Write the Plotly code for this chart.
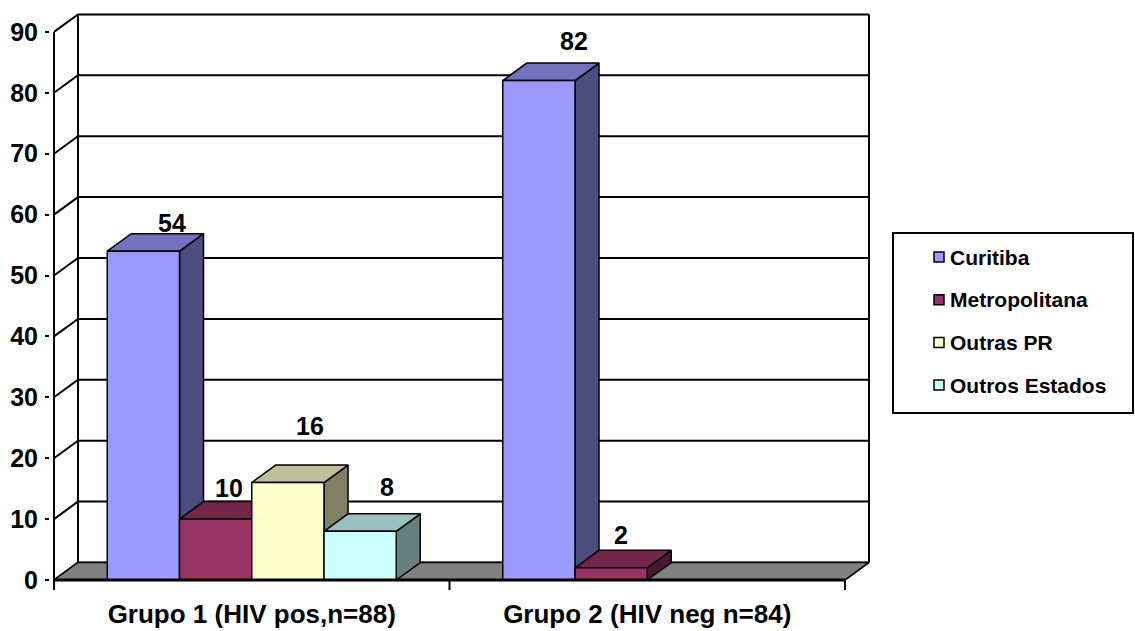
import plotly.graph_objects as go

# ---- data ----
categories = ["Grupo 1 (HIV pos,n=88)", "Grupo 2 (HIV neg n=84)"]
series_names = ["Curitiba", "Metropolitana", "Outras PR", "Outros Estados"]
curitiba = [54, 82]
metropolitana = [10, 2]
outras_pr = [16, 0]
outros_estados = [8, 0]
y_ticks = [0, 10, 20, 30, 40, 50, 60, 70, 80, 90]

series_values = [curitiba, metropolitana, outras_pr, outros_estados]

# ---- styling ----
FONT = "Liberation Sans, Arial, sans-serif"
front_colors = ["#9999FF", "#993366", "#FFFFCC", "#CCFFFF"]


def shade(hex_color, f):
    h = hex_color.lstrip("#")
    r, g, b = (int(h[i:i + 2], 16) for i in (0, 2, 4))
    return "#%02X%02X%02X" % (int(r * f), int(g * f), int(b * f))


# figure geometry (pixels)
W, H = 1135, 631
M_L, M_R, M_T, M_B = 50, 263, 12, 41
PX_PER_CAT = 395.5          # pixels per category along x
PX_PER_UNIT = 6.09          # pixels per value unit along y
DEPTH_PX = (24.0, 17.5)     # oblique depth offset of the 3D box

DX = DEPTH_PX[0] / PX_PER_CAT
DY = DEPTH_PX[1] / PX_PER_UNIT
BAR_W = 72.25 / PX_PER_CAT
N_SER = len(series_names)

plot_w = W - M_L - M_R
plot_h = H - M_T - M_B
x_min = -0.5 - 4 / PX_PER_CAT
x_max = x_min + plot_w / PX_PER_CAT
y_min = -10 / PX_PER_UNIT
y_max = y_min + plot_h / PX_PER_UNIT

x_left, x_right = -0.5, len(categories) - 0.5
y_top = y_ticks[-1]

fig = go.Figure()


def poly(xs, ys, fill=None, width=1.5, color="black"):
    kw = dict(x=xs, y=ys, mode="lines", line=dict(color=color, width=width),
              hoverinfo="skip", showlegend=False)
    if fill:
        kw.update(fill="toself", fillcolor=fill)
    fig.add_trace(go.Scatter(**kw))


# back wall gridlines (front edge -> back wall)
gx, gy = [], []
for v in y_ticks:
    gx += [x_left, x_left + DX, x_right + DX, None]
    gy += [v, v + DY, v + DY, None]
poly(gx, gy, width=2)

# back wall verticals
poly([x_left + DX, x_left + DX], [DY, y_top + DY], width=2)
poly([x_right + DX, x_right + DX], [DY, y_top + DY], width=2)

# floor
poly([x_left, x_right, x_right + DX, x_left + DX, x_left],
     [0, 0, DY, DY, 0], fill="#808080", width=1.5)

# 3D bars: side, top, then front face
for ci in range(len(categories)):
    for si in range(N_SER):
        v = series_values[si][ci]
        if v <= 0:
            continue
        x0 = ci - N_SER * BAR_W / 2 + si * BAR_W
        x1 = x0 + BAR_W
        c = front_colors[si]
        poly([x1, x1 + DX, x1 + DX, x1, x1], [0, DY, v + DY, v, 0],
             fill=shade(c, 0.5))
        poly([x0, x0 + DX, x1 + DX, x1, x0], [v, v + DY, v + DY, v, v],
             fill=shade(c, 0.75))
        poly([x0, x1, x1, x0, x0], [0, 0, v, v, 0], fill=c)

# front axis edges and category tick marks
poly([x_left, x_left], [0, y_top], width=2)
poly([x_left, x_right], [0, 0], width=3)
poly([x_right, x_right + DX], [0, DY], width=1.5)
tx, ty = [], []
for b in range(len(categories) + 1):
    tx += [x_left + b, x_left + b, None]
    ty += [0, y_min, None]
poly(tx, ty, width=2)

# value labels, nudged in pixels the way the chart places them
label_nudge = {
    (0, 0): (5, 11), (0, 1): (-11, 14), (0, 2): (-2, 39), (0, 3): (3, 27),
    (1, 0): (11, 22), (1, 1): (-14, 15),
}
annotations = []
for ci in range(len(categories)):
    for si in range(N_SER):
        v = series_values[si][ci]
        if v <= 0:
            continue
        x0 = ci - N_SER * BAR_W / 2 + si * BAR_W
        nx, ny = label_nudge.get((ci, si), (0, 12))
        annotations.append(dict(
            x=x0 + BAR_W / 2 + DX, y=v + DY, xref="x", yref="y",
            text=str(v), showarrow=False, xanchor="center", yanchor="middle",
            xshift=nx, yshift=ny,
            font=dict(family=FONT, size=25, color="black", weight="bold")))


# legend drawn in pixel space
def px_x(p):
    return (p - M_L) / plot_w


def px_y(p):
    return 1 - (p - M_T) / plot_h


shapes = [dict(type="rect", xref="paper", yref="paper",
               x0=px_x(893), x1=px_x(1133), y0=px_y(413), y1=px_y(233),
               line=dict(color="black", width=2), fillcolor="white", layer="above")]
for i, name in enumerate(series_names):
    cy = 257 + i * 42.7
    shapes.append(dict(type="rect", xref="paper", yref="paper",
                       x0=px_x(934), x1=px_x(944), y0=px_y(cy + 5), y1=px_y(cy - 5),
                       line=dict(color="black", width=1.5),
                       fillcolor=front_colors[i], layer="above"))
    annotations.append(dict(
        x=px_x(948), y=px_y(cy), xref="paper", yref="paper", text=name,
        showarrow=False, xanchor="left", yanchor="middle",
        font=dict(family=FONT, size=21, color="black", weight="bold")))

fig.update_layout(
    width=W, height=H,
    margin=dict(l=M_L, r=M_R, t=M_T, b=M_B, autoexpand=False),
    paper_bgcolor="white", plot_bgcolor="white",
    showlegend=False,
    shapes=shapes, annotations=annotations,
    xaxis=dict(range=[x_min, x_max], showgrid=False, zeroline=False,
               showline=False, tickvals=list(range(len(categories))),
               ticktext=categories, ticks="", ticklabelstandoff=6,
               automargin=False,
               tickfont=dict(family=FONT, size=26, color="black", weight="bold"),
               fixedrange=True),
    yaxis=dict(range=[y_min, y_max], showgrid=False, zeroline=False,
               showline=False, tickvals=y_ticks, ticks="outside", ticklen=4,
               tickwidth=2, tickcolor="black", ticklabelstandoff=2,
               automargin=False,
               tickfont=dict(family=FONT, size=25, color="black", weight="bold"),
               fixedrange=True),
)

fig.write_html("out.html")
